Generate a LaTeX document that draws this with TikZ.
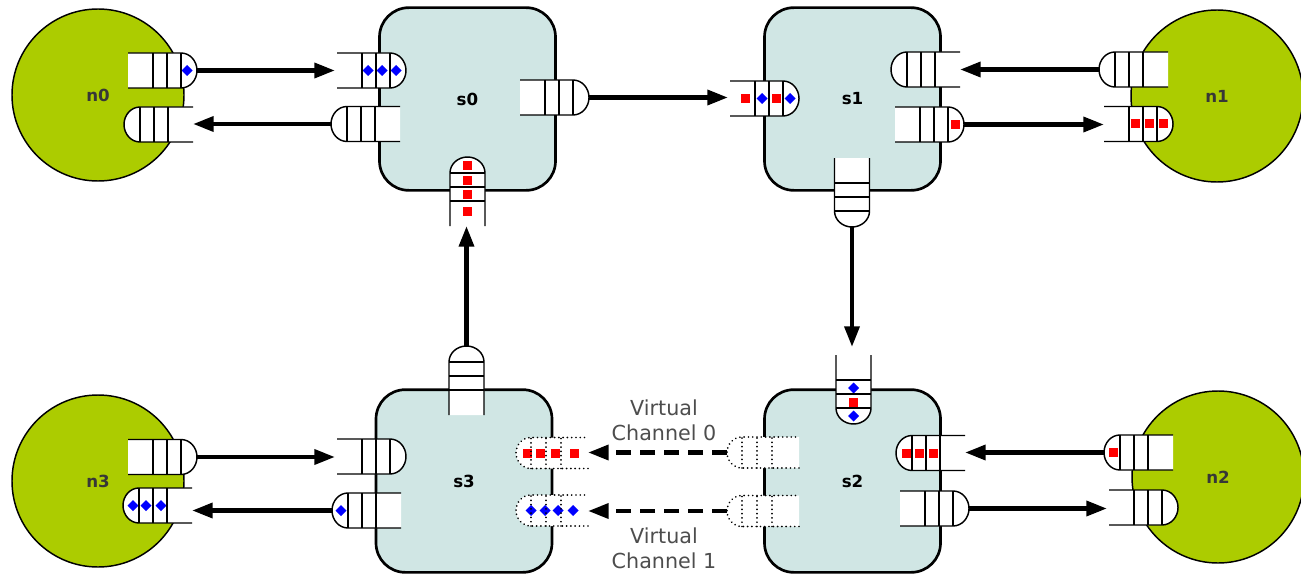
\documentclass[tikz,border=0pt]{standalone}
\usepackage{fontspec}
\setmainfont{DejaVu Sans}
\usetikzlibrary{arrows.meta}

\definecolor{nodegreen}{RGB}{172,204,0}
\definecolor{switchfill}{RGB}{208,230,228}
\definecolor{labelgray}{RGB}{55,55,55}
\definecolor{captiongray}{RGB}{77,77,77}

% flit markers, placed along the local axis of a buffer
\newcommand\pkred[1]{\fill[red] (#1,0) +(-4.5,-4.5) rectangle +(4.5,4.5);}
\newcommand\pkblue[1]{\fill[blue] (#1,0) +(-5.5,0) -- +(0,-5.5) -- +(5.5,0) -- +(0,5.5) -- cycle;}

\tikzset{
  bufline/.style={line width=1.1pt},
  vcline/.style={line width=1.4pt, line cap=round, dash pattern=on 0.01pt off 3.2pt},
  % input/output buffer: open back at the origin, rounded head towards +x
  pics/fifo/.style={code={
    \fill[white] (0,-17.5) -- (53,-17.5)
      arc[start angle=-90,end angle=90,x radius=16,y radius=17.5] -- (0,17.5) -- cycle;
    #1
    \draw[bufline] (0,-17.5) -- (53,-17.5)
      arc[start angle=-90,end angle=90,x radius=16,y radius=17.5] -- (0,17.5);
    \foreach \d in {25,39,53} {\draw[bufline] (\d,-17.5) -- (\d,17.5);}
    \coordinate (-back) at (0,0);
    \coordinate (-front) at (69,0);
  }},
  pics/fifo/.default={},
  % virtual-channel buffer, dotted outline
  pics/vcfifo/.style={code={
    \fill[white] (0,-15.5) -- (57,-15.5)
      arc[start angle=-90,end angle=90,x radius=15,y radius=15.5] -- (0,15.5) -- cycle;
    #1
    \draw[vcline] (0,-15.5) -- (57,-15.5)
      arc[start angle=-90,end angle=90,x radius=15,y radius=15.5] -- (0,15.5);
    \foreach \d in {27,42,57} {\draw[vcline] (\d,-15.5) -- (\d,15.5);}
    \coordinate (-back) at (0,0);
    \coordinate (-front) at (72,0);
  }},
  pics/vcfifo/.default={},
  terminal/.style={circle, draw=black, line width=1.1pt, fill=nodegreen,
    minimum size=129pt, inner sep=0pt, text=labelgray,
    font=\bfseries\fontsize{12.5}{14}\selectfont},
  router/.style={draw=black, line width=2pt, fill=switchfill, rounded corners=22pt,
    minimum width=132pt, minimum height=137pt, inner sep=0pt,
    font=\bfseries\fontsize{12.5}{14}\selectfont},
  link/.style={line width=3.3pt, -{Triangle[length=15.5pt,width=11pt]}},
  vclink/.style={link, dash pattern=on 11pt off 7pt},
  caption/.style={align=center, text=captiongray,
    font=\fontsize{15.5}{19}\selectfont},
}

\begin{document}
\begin{tikzpicture}[x=0.75pt,y=-0.75pt]
\useasboundingbox (0,0) rectangle (1301,574);

% end nodes
\node[terminal] (n0) at (98,95) {n0};
\node[terminal] (n1) at (1217,96) {n1};
\node[terminal] (n2) at (1218,477) {n2};
\node[terminal] (n3) at (98,481) {n3};

% switches
\node[router] (s0) at (467.5,99) {s0};
\node[router] (s1) at (852.5,99) {s1};
\node[router] (s2) at (852.5,481) {s2};
\node[router] (s3) at (464,481) {s3};

% buffers heading right
\pic (n0out) at (128,70.5) {fifo={\pkblue{59}}};
\pic (s0in) at (337,70.5) {fifo={\pkblue{31}\pkblue{45}\pkblue{59}}};
\pic (s0e) at (520,97.5) {fifo};
\pic (s1w) at (730,98.5) {fifo={\pkred{15}\pkblue{32}\pkred{46}\pkblue{60}}};
\pic (s1out) at (895,124.5) {fifo={\pkred{60}}};
\pic (n1in) at (1104,124) {fifo={\pkred{31}\pkred{45}\pkred{59}}};
\pic (n3out) at (128,457) {fifo};
\pic (s3in) at (337,456.5) {fifo};
\pic (s2out) at (900,508.5) {fifo};
\pic (n2in) at (1109,507.5) {fifo};

% buffers heading left
\pic[rotate=180] (n0in) at (193,124.5) {fifo};
\pic[rotate=180] (s0out) at (400,124) {fifo};
\pic[rotate=180] (s1in) at (960,69.5) {fifo};
\pic[rotate=180] (n1out) at (1168,69.5) {fifo};
\pic[rotate=180] (n3in) at (192,505.5) {fifo={\pkblue{31}\pkblue{46}\pkblue{59}}};
\pic[rotate=180] (s3out) at (401,510.5) {fifo={\pkblue{60}}};
\pic[rotate=180] (s2in) at (965,453) {fifo={\pkred{32}\pkred{46}\pkred{59}}};
\pic[rotate=180] (n2out) at (1173,452.5) {fifo={\pkred{60}}};

% buffers heading up / down
\pic[rotate=90] (s0s) at (467.5,226) {fifo={\pkred{15}\pkred{32}\pkred{46}\pkred{61}}};
\pic[rotate=90] (s3n) at (466.5,415) {fifo};
\pic[rotate=-90] (s1s) at (852,158) {fifo};
\pic[rotate=-90] (s2n) at (853.5,355) {fifo={\pkblue{33}\pkred{47}\pkblue{61}}};

% virtual channels between s2 and s3
\pic[rotate=180] (s3vc0) at (588,453) {vcfifo={\pkred{14}\pkred{33}\pkred{48}\pkred{61}}};
\pic[rotate=180] (s3vc1) at (588,510.5) {vcfifo={\pkblue{15}\pkblue{30}\pkblue{43}\pkblue{57}}};
\pic[rotate=180] (s2vc0) at (799,452.5) {vcfifo};
\pic[rotate=180] (s2vc1) at (799,511) {vcfifo};

% links
\draw[link, shorten >=1.5pt] (n0out-front) -- (n0out-front -| s0in-back);
\draw[link] (s0out-front) -- (s0out-front -| n0in-back);
\draw[link, shorten >=1.5pt] (s0e-front) -- (s0e-front -| s1w-back);
\draw[link] (n1out-front) -- (n1out-front -| s1in-back);
\draw[link] (s1out-front) -- (s1out-front -| n1in-back);
\draw[link, shorten >=6pt] (s1s-front) -- (s1s-front |- s2n-back);
\draw[link] (s3n-front) -- (s3n-front |- s0s-back);
\draw[link, shorten >=1.5pt] (n3out-front) -- (n3out-front -| s3in-back);
\draw[link] (s3out-front) -- (s3out-front -| n3in-back);
\draw[link] (n2out-front) -- (n2out-front -| s2in-back);
\draw[link, shorten >=1.5pt] (s2out-front) -- (s2out-front -| n2in-back);
\draw[vclink] (s2vc0-front) -- (s2vc0-front -| s3vc0-back);
\draw[vclink] (s2vc1-front) -- (s2vc1-front -| s3vc1-back);

% channel captions
\node[caption] (vc0) at (664,420.5) {Virtual\\Channel 0};
\node[caption] (vc1) at (664,548) {Virtual\\Channel 1};
\end{tikzpicture}
\end{document}
